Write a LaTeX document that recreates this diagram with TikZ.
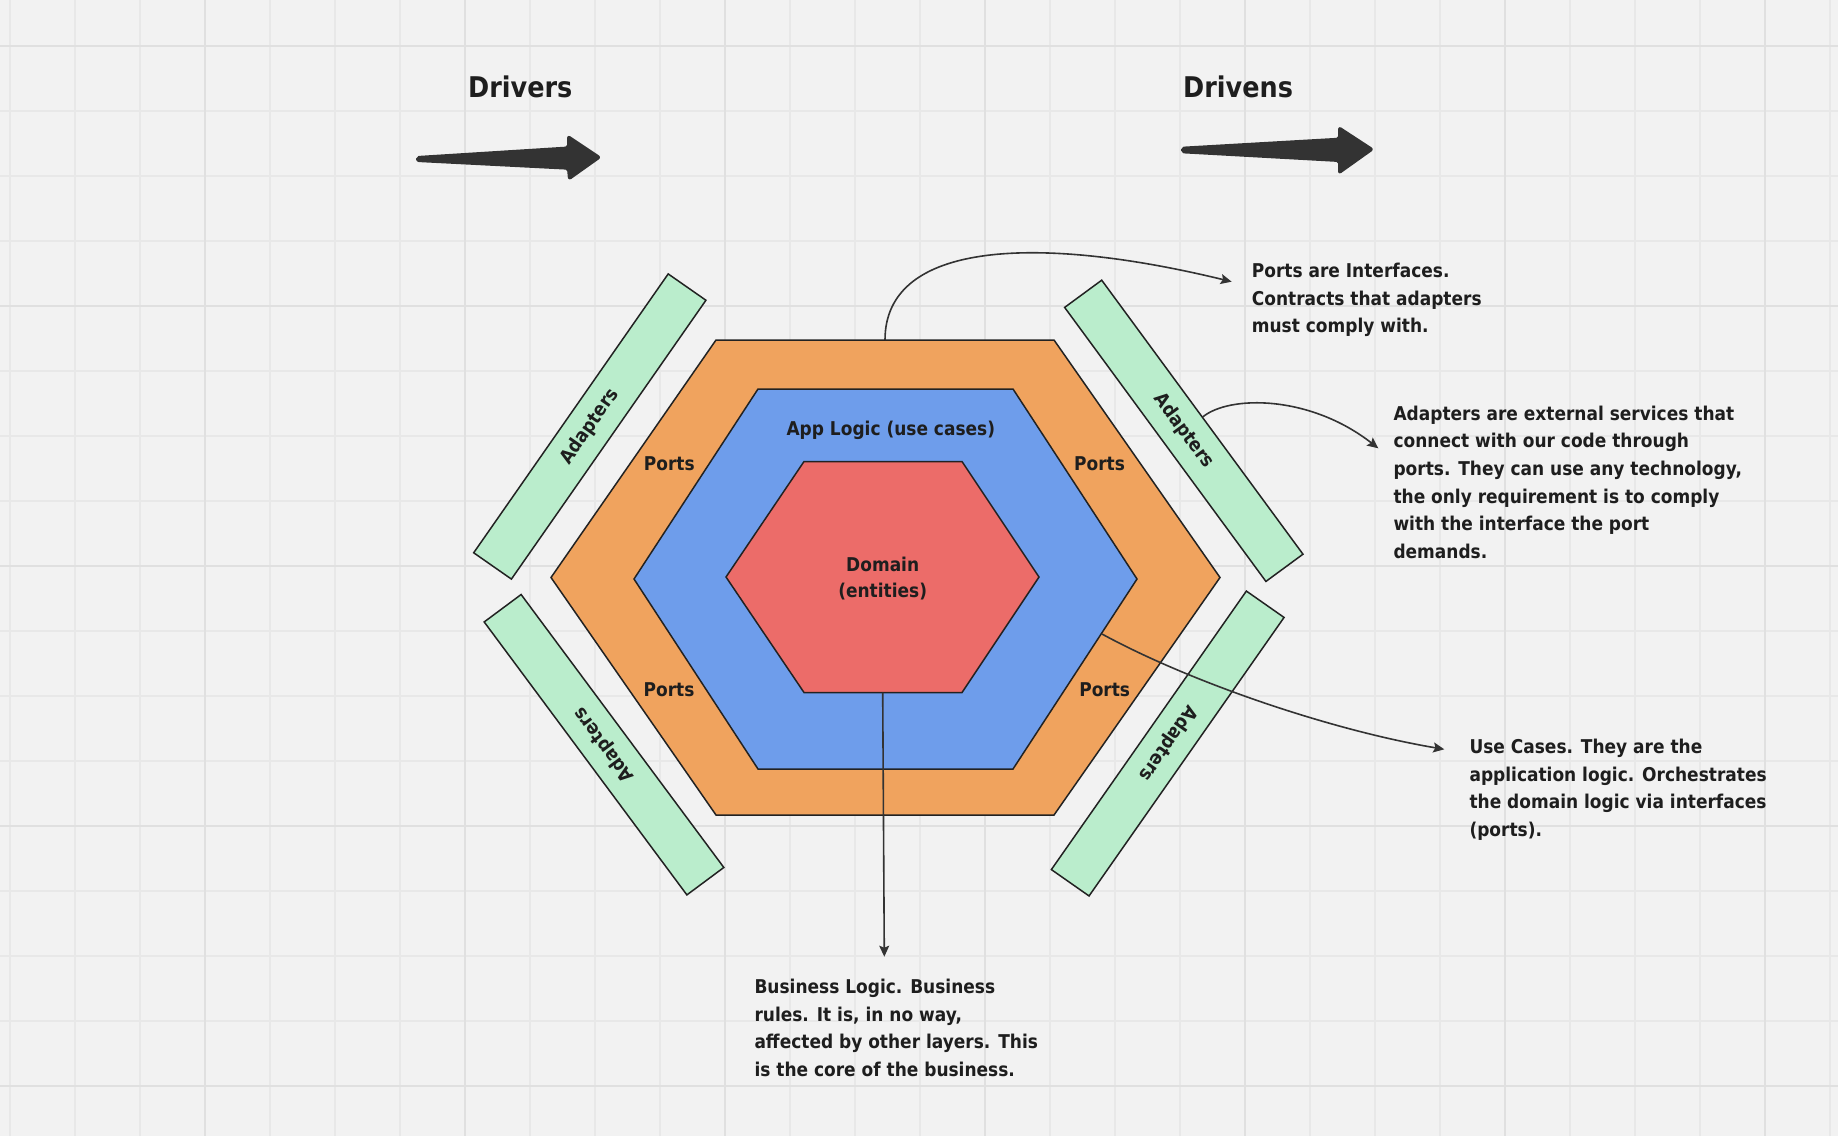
\documentclass[tikz,border=0pt]{standalone}
\usepackage{fontspec}
\setmainfont{DejaVu Sans}[FakeStretch=0.895]
\usetikzlibrary{arrows.meta}

\definecolor{boardbg}{HTML}{F2F2F2}
\definecolor{gridminor}{HTML}{E8E8E8}
\definecolor{gridmajor}{HTML}{E0E0E0}
\definecolor{portcol}{HTML}{F0A35E}
\definecolor{appcol}{HTML}{6E9DEB}
\definecolor{domaincol}{HTML}{EC6C69}
\definecolor{adaptcol}{HTML}{BAEDCC}
\definecolor{edgecol}{HTML}{222222}
\definecolor{wirecol}{HTML}{333333}
\definecolor{inkcol}{HTML}{1E1E1E}

\tikzset{
  hexborder/.style={draw=edgecol, line width=1.5pt, line join=miter},
  adapter/.style={draw=edgecol, fill=adaptcol, line width=1.5pt, minimum width=340pt,
    minimum height=46pt, inner sep=0pt, text=inkcol, font=\bfseries\fontsize{19}{26}\selectfont},
  label/.style={inner sep=0pt, anchor=base, align=center, text=inkcol,
    font=\bfseries\fontsize{19}{26}\selectfont},
  note/.style={inner sep=0pt, anchor=base west, align=left, text=inkcol,
    font=\bfseries\fontsize{19}{27.7}\selectfont},
  title/.style={inner sep=0pt, anchor=base west, text=inkcol, font=\bfseries\fontsize{28.5}{34}\selectfont},
  callout/.style={draw=wirecol, line width=1.6pt, -{Stealth[length=11pt,width=10pt,inset=2pt]}},
  bigarrow/.style={fill=wirecol, draw=wirecol, line width=2pt, line join=round, rounded corners=2pt}
}

\begin{document}
\begin{tikzpicture}[x=1pt, y=-1pt]
        % Board and grid
        \useasboundingbox (0,0) rectangle (1838,1136);
        \fill[boardbg] (0,0) rectangle (1838,1136);
        \foreach \k in {0,...,28} \draw[gridminor, line width=1.5pt] (10+65*\k,0) -- (10+65*\k,1136);
        \foreach \k in {0,...,16} \draw[gridminor, line width=1.5pt] (0,46+65*\k) -- (1838,46+65*\k);
        \foreach \k in {0,...,6} \draw[gridmajor, line width=2.5pt] (205+260*\k,0) -- (205+260*\k,1136);
        \foreach \k in {0,...,4} \draw[gridmajor, line width=2.5pt] (0,46+260*\k) -- (1838,46+260*\k);

        % Titles and flow arrows
        \node[title] (drivers) at (468,97) {Drivers};
        \node[title] (drivens) at (1183,97) {Drivens};
        \fill[bigarrow] (417,157) -- (568,147.5) -- (568,136) -- (600,157.3) -- (569,179.3)
            -- (568,168.7) -- (417,161) -- cycle;
        \fill[bigarrow] (1182,147.7) -- (1339,138.7) -- (1339,127.3) -- (1372.7,149.3)
            -- (1339,173.3) -- (1339,161) -- (1182,152.3) -- cycle;

        % Outer ring - ports
        \draw[hexborder, fill=portcol] (716,340) -- (1054,340) -- (1220,577.5) -- (1054,815)
            -- (716,815) -- (551,577.5) -- cycle;
        \coordinate (portsTop) at (885,340);

        % Middle ring - app logic
        \draw[hexborder, fill=appcol] (758,389) -- (1013,389) -- (1137,579) -- (1013,769)
            -- (758,769) -- (634,579) -- cycle;
        \coordinate (appEdge) at (1102,634);

        % Core - domain
        \draw[hexborder, fill=domaincol] (804,461.5) -- (962,461.5) -- (1039,577) -- (962,692.5)
            -- (804,692.5) -- (726,577) -- cycle;
        \coordinate (domainBottom) at (882.7,692.5);

        % Labels on the rings (multi-line nodes sit on their last line)
        \node[label] (appLabel) at (890.8,435) {App Logic (use cases)};
        \node[label] (domainLabel) at (882.7,597) {Domain\\(entities)};
        \node[label] (portsTL) at (669.3,470) {Ports};
        \node[label] (portsTR) at (1099.5,470) {Ports};
        \node[label] (portsBL) at (669,696.7) {Ports};
        \node[label] (portsBR) at (1104.7,696.7) {Ports};

        % Adapters around the hexagon
        \node[adapter, rotate=55.1] (adTL) at (589.8,426.5) {Adapters};
        \node[adapter, rotate=-53.7] (adTR) at (1183.8,430.8) {Adapters};
        \node[adapter, rotate=126.6] (adBL) at (604,744.7) {Adapters};
        \node[adapter, rotate=235] (adBR) at (1167.7,743.5) {Adapters};

        % Notes
        \node[note] (portsNote) at (1251.7,332.7) {Ports are Interfaces.\\Contracts that adapters\\must comply with.};
        \node[note] (adaptNote) at (1393.3,558.5) {Adapters are external services that\\connect with our code through\\ports. They can use any technology,\\the only requirement is to comply\\with the interface the port\\demands.};
        \node[note] (caseNote) at (1469.3,836.4) {Use Cases. They are the\\application logic. Orchestrates\\the domain logic via interfaces\\(ports).};
        \node[note] (domainNote) at (754.3,1076.4) {Business Logic. Business\\rules. It is, in no way,\\affected by other layers. This\\is the core of the business.};
        \coordinate (portsTip) at (1231.7,281.7);
        \coordinate (adaptTip) at (1378.3,448.3);
        \coordinate (caseTip) at (1444.3,749.3);
        \coordinate (domainTip) at (884.3,956.7);

        % Callout arrows
        \draw[callout] (portsTop) .. controls (885,240) and (1040,235) .. (portsTip);
        \draw[callout] (adTR.north) .. controls (1230,395) and (1310,395) .. (adaptTip);
        \draw[callout] (appEdge) .. controls (1190,682) and (1330,730) .. (caseTip);
        \draw[callout] (domainBottom) -- (domainTip);
\end{tikzpicture}
\end{document}
